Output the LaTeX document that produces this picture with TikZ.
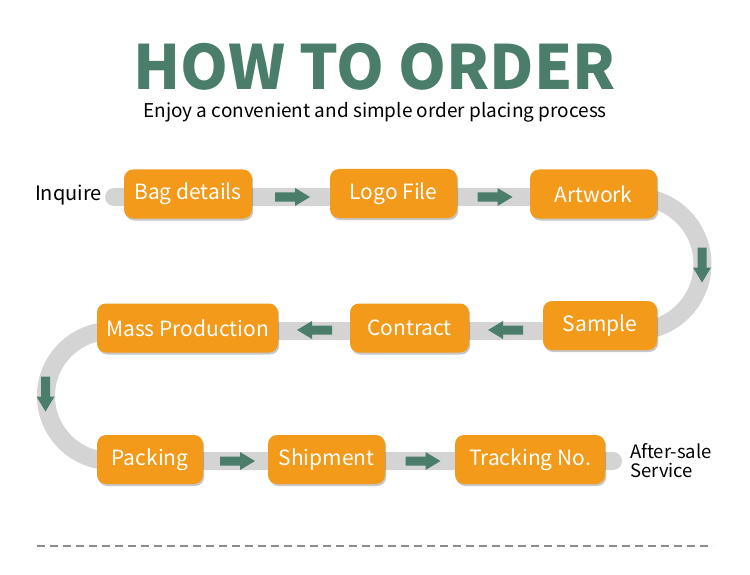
\documentclass[tikz,border=0pt]{standalone}
\usepackage{fontspec}
\IfFontExistsTF{Noto Sans CJK SC}{\setmainfont{Noto Sans CJK SC}}{\setmainfont{Lato}}
\usetikzlibrary{shadows}
\definecolor{boxorange}{HTML}{F39A1A}
\definecolor{arrowgreen}{HTML}{4B7D6B}
\definecolor{trackgray}{HTML}{D4D4D4}
\definecolor{dashgray}{HTML}{8C8C8C}
\tikzset{
  stepbox/.style={rectangle, rounded corners=9pt, fill=boxorange, text=white,
    inner sep=0pt, minimum height=49pt, font=\fontsize{21}{24}\selectfont,
    drop shadow={shadow xshift=1.2pt, shadow yshift=-2pt, fill=black, opacity=.22}},
  track/.style={draw=trackgray, line width=18pt, line cap=round},
  plain/.style={inner sep=0pt, text=black},
  blockarrow/.pic={\fill[arrowgreen] (-17.5,-4.5) -- (2.5,-4.5) -- (2.5,-9) -- (17.5,0) -- (2.5,9) -- (2.5,4.5) -- (-17.5,4.5) -- cycle;}
}
\begin{document}
\begin{tikzpicture}[x=1pt,y=1pt]
\useasboundingbox (0,0) rectangle (750,-575);
% title
\node[plain, text=arrowgreen, anchor=base, font=\fontsize{61}{70}\selectfont\bfseries] (title) at (374.5,-90) {HOW TO ORDER};
\node[plain, anchor=base, font=\fontsize{19}{22}\selectfont] (sub) at (375,-118) {Enjoy a convenient and simple order placing process};
% track
\coordinate (tstart) at (114,-197);
\coordinate (tend) at (613,-461);
\draw[track] (tstart) -- (635.5,-197) arc[start angle=90, end angle=-90, radius=67]
  -- (111,-331) arc[start angle=90, end angle=270, radius=65] -- (tend);
% boxes
\node[stepbox, minimum width=128pt] (bag) at (188,-194) {Bag details};
\node[stepbox, minimum width=127pt] (logo) at (393.5,-193.5) {Logo File};
\node[stepbox, minimum width=127pt] (art) at (593.5,-194) {Artwork};
\node[stepbox, minimum width=114pt] (sample) at (600,-325.5) {Sample};
\node[stepbox, minimum width=119pt] (contract) at (409.5,-328) {Contract};
\node[stepbox, minimum width=181pt] (mass) at (187.5,-328) {Mass Production};
\node[stepbox, minimum width=106pt] (pack) at (150,-459.5) {Packing};
\node[stepbox, minimum width=117pt] (ship) at (326.5,-459.5) {Shipment};
\node[stepbox, minimum width=150pt] (track) at (530,-459.5) {Tracking No.};
% end labels
\node[plain, anchor=east, font=\fontsize{20}{22}\selectfont] (inq) at (102,-195) {Inquire};
\node[plain, anchor=west, align=left, font=\fontsize{18.5}{19}\selectfont] (after) at (630,-461) {After-sale\\Service};
% arrows
\pic at (292.5,-197) {blockarrow};
\pic at (495,-197) {blockarrow};
\pic[rotate=-90] at (702,-265) {blockarrow};
\pic[rotate=180] at (505.5,-330) {blockarrow};
\pic[rotate=180] at (314.5,-330) {blockarrow};
\pic[rotate=-90] at (45.5,-394) {blockarrow};
\pic at (237.5,-461) {blockarrow};
\pic at (423,-461) {blockarrow};
% dashed separator
\draw[dashgray, line width=2pt, dash pattern=on 8pt off 5pt] (37,-546) -- (713,-546);
\end{tikzpicture}
\end{document}
